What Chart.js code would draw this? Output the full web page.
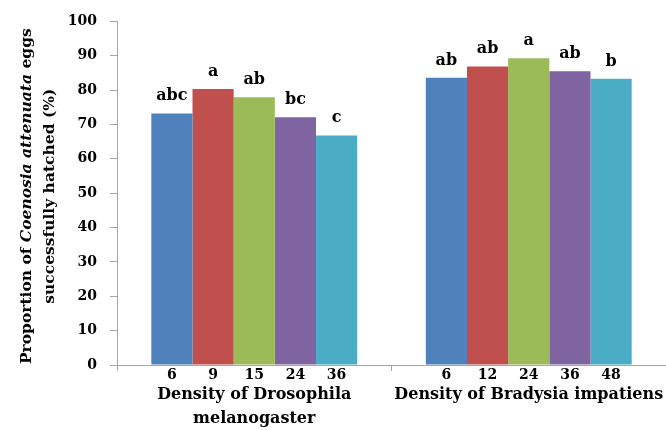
<!DOCTYPE html>
<html>
<head>
<meta charset="utf-8">
<script src="https://cdn.jsdelivr.net/npm/chart.js@4.4.0/dist/chart.umd.min.js"></script>
<style>
    html, body { margin: 0; padding: 0; background: #fff; }
    #wrap { width: 666px; height: 430px; }
</style>
</head>
<body>
<div id="wrap"><canvas id="hatchChart"></canvas></div>
<script>
// Data
const groups = [['Density of Drosophila', 'melanogaster'], 'Density of Bradysia impatiens'];
const densityLabels = [
    ['6', '9', '15', '24', '36'],
    ['6', '12', '24', '36', '48']
];
// one array per bar position in each group
const bar1 = [73.2, 83.6];
const bar2 = [80.3, 86.9];
const bar3 = [77.9, 89.3];
const bar4 = [72.1, 85.5];
const bar5 = [66.8, 83.3];
const letters = [
    ['abc', 'a', 'ab', 'bc', 'c'],
    ['ab', 'ab', 'a', 'ab', 'b']
];
const yTicks = [0, 10, 20, 30, 40, 50, 60, 70, 80, 90, 100];

const colors = ['#4F81BD', '#C0504D', '#9BBB59', '#8064A2', '#4BACC6'];
const serif = '"DejaVu Serif", serif';

// Draws the density numbers under bars, the letters above them and the y title
const annotations = {
    id: 'annotations',
    afterDatasetsDraw(chart) {
        const ctx = chart.ctx;
        const area = chart.chartArea;
        ctx.save();
        ctx.fillStyle = '#000';
        ctx.textAlign = 'center';
        chart.data.datasets.forEach((ds, i) => {
            const meta = chart.getDatasetMeta(i);
            meta.data.forEach((bar, g) => {
                ctx.font = 'bold 14px ' + serif;
                ctx.textBaseline = 'middle';
                ctx.fillText(densityLabels[g][i], bar.x, area.bottom + 10);
                ctx.font = 'bold 16px ' + serif;
                ctx.textBaseline = 'alphabetic';
                ctx.fillText(letters[g][i], bar.x, bar.y - 13);
            });
        });

        // y axis title, two lines, with italic species name
        const cy = (area.top + area.bottom) / 2 + 3;
        ctx.translate(0, cy);
        ctx.rotate(-Math.PI / 2);
        ctx.textBaseline = 'middle';
        ctx.textAlign = 'left';
        const parts = [
            ['Proportion of ', 'bold 15.5px ' + serif],
            ['Coenosia attenuata', 'italic bold 15.5px ' + serif],
            [' eggs', 'bold 15.5px ' + serif]
        ];
        let total = 0;
        parts.forEach(p => { ctx.font = p[1]; total += ctx.measureText(p[0]).width; });
        let x = -total / 2;
        parts.forEach(p => {
            ctx.font = p[1];
            ctx.fillText(p[0], x, 27);
            x += ctx.measureText(p[0]).width;
        });
        ctx.font = 'bold 15.5px ' + serif;
        ctx.textAlign = 'center';
        ctx.fillText('successfully hatched (%)', 0, 50);
        ctx.restore();
    }
};

new Chart(document.getElementById('hatchChart'), {
    type: 'bar',
    data: {
        labels: groups,
        datasets: [bar1, bar2, bar3, bar4, bar5].map((vals, i) => ({
            data: vals,
            backgroundColor: colors[i],
            borderWidth: 0,
            categoryPercentage: 0.75,
            barPercentage: 1
        }))
    },
    options: {
        responsive: true,
        maintainAspectRatio: false,
        animation: false,
        layout: { padding: { top: 14, right: 0, left: 0, bottom: 0 } },
        plugins: {
            legend: { display: false },
            tooltip: { enabled: false }
        },
        scales: {
            x: {
                grid: {
                    display: true,
                    drawOnChartArea: false,
                    color: '#a6a6a6',
                    tickLength: 6
                },
                border: { color: '#a6a6a6', width: 1 },
                ticks: {
                    color: '#000',
                    font: { family: serif, size: 16, weight: 'bold', lineHeight: 1.5 },
                    padding: 12,
                    minRotation: 0,
                    maxRotation: 0,
                    autoSkip: false
                },
                afterFit(scale) {
                    scale.height = 65;
                    // let the axis run to the right edge like the original
                    scale.paddingLeft = 0;
                    scale.paddingRight = 0;
                }
            },
            y: {
                min: 0,
                max: 100,
                afterBuildTicks(scale) {
                    scale.ticks = yTicks.map(v => ({ value: v }));
                },
                grid: {
                    display: true,
                    drawOnChartArea: false,
                    color: '#a6a6a6',
                    tickLength: 7
                },
                border: { color: '#a6a6a6', width: 1 },
                ticks: {
                    color: '#000',
                    font: { family: serif, size: 14, weight: 'bold' },
                    padding: 13
                },
                afterFit(scale) { scale.width = 117; }
            }
        }
    },
    plugins: [annotations]
});
</script>
</body>
</html>
